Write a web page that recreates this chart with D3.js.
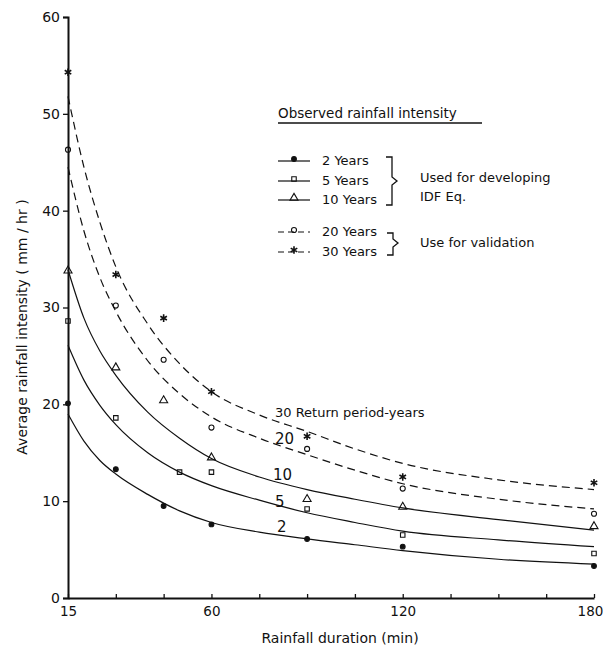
<!DOCTYPE html>
<meta charset="utf-8">
<script src="https://d3js.org/d3.v7.min.js"></script>
<style>
  body { margin: 0; background: #fff; }
  text { font-family: "DejaVu Sans", sans-serif; fill: #111; }
</style>
<div id="chart"></div>
<script>
// observed rainfall intensity (mm/hr) by duration (min)
var obsDur = [15, 30, 45, 60, 90, 120, 180];
var obsDur5 = [15, 30, 50, 60, 90, 120, 180];
var obs2 = [20.1, 13.3, 9.5, 7.6, 6.1, 5.3, 3.3];
var obs5 = [28.6, 18.6, 13.0, 13.0, 9.2, 6.5, 4.6];
var obs10 = [33.8, 23.8, 20.4, 14.5, 10.2, 9.4, 7.4];
var obs20 = [46.3, 30.2, 24.6, 17.6, 15.4, 11.3, 8.7];
var obs30 = [54.3, 33.4, 28.9, 21.3, 16.7, 12.5, 11.9];

// fitted IDF curves
var curveDur = [15, 20, 25, 30, 40, 50, 60, 75, 90, 105, 120, 150, 180];
var fit2 = [19.0, 16.2, 14.2, 12.8, 10.7, 9.0, 7.8, 6.8, 6.1, 5.5, 4.9, 4.0, 3.5];
var fit5 = [26.1, 22.5, 19.9, 17.9, 15.0, 13.0, 11.6, 10.1, 8.8, 7.8, 6.9, 6.0, 5.3];
var fit10 = [33.9, 28.9, 25.5, 23.0, 19.2, 16.5, 14.4, 12.5, 11.2, 10.2, 9.3, 8.1, 7.0];
var fit20 = [44.5, 37.9, 33.1, 29.6, 24.5, 21.1, 18.7, 16.5, 14.8, 13.2, 11.8, 10.2, 9.2];
var fit30 = [51.8, 44.5, 38.8, 34.2, 28.3, 24.2, 21.3, 18.9, 17.2, 15.4, 13.9, 12.2, 11.2];

var yTicks = [0, 10, 20, 30, 40, 50, 60];
var xTicks = [15, 30, 45, 60, 75, 90, 105, 120, 135, 150, 165, 180];
var xLabels = [15, 60, 120, 180];

var series = [
  {name: "2 Years", label: "2", dur: obsDur, obs: obs2, fit: fit2, sym: "dot", dash: null},
  {name: "5 Years", label: "5", dur: obsDur5, obs: obs5, fit: fit5, sym: "square", dash: null},
  {name: "10 Years", label: "10", dur: obsDur, obs: obs10, fit: fit10, sym: "triangle", dash: null},
  {name: "20 Years", label: "20", dur: obsDur, obs: obs20, fit: fit20, sym: "circle", dash: "8,5"},
  {name: "30 Years", label: "30 Return period-years", dur: obsDur, obs: obs30, fit: fit30, sym: "star", dash: "8,5"}
];

var width = 603, height = 653;
var svg = d3.select("#chart").append("svg")
  .attr("width", width)
  .attr("height", height);

var x = d3.scaleLinear().domain([15, 180]).range([68, 594]);
var y = d3.scaleLinear().domain([0, 60]).range([598, 17]);

// axes
var yAxis = svg.append("g")
  .attr("transform", "translate(68,0)")
  .call(d3.axisLeft(y).tickValues(yTicks).tickSize(5).tickPadding(3));
yAxis.selectAll("text").style("font-size", "14px").attr("font-family", null);
yAxis.select(".domain").attr("stroke-width", 2).attr("stroke", "#111");
yAxis.selectAll(".tick line").attr("stroke-width", 1.3).attr("stroke", "#111");

var xAxis = svg.append("g")
  .attr("transform", "translate(0,598)")
  .call(d3.axisBottom(x).tickValues(xTicks).tickSizeInner(-4).tickSizeOuter(0).tickPadding(8)
    .tickFormat(function(d) { return xLabels.indexOf(d) >= 0 ? d : ""; }));
xAxis.selectAll("text").style("font-size", "13.5px").attr("font-family", null)
  .attr("dx", function(d) { return d == 180 ? -4 : 0; });
xAxis.select(".domain").attr("stroke-width", 2).attr("stroke", "#111");
xAxis.selectAll(".tick line").attr("stroke-width", 1.3).attr("stroke", "#111");

svg.append("text")
  .attr("x", 340).attr("y", 643)
  .attr("text-anchor", "middle")
  .style("font-size", "14px")
  .text("Rainfall duration (min)");

svg.append("text")
  .attr("transform", "translate(27,327) rotate(-90)")
  .attr("text-anchor", "middle")
  .style("font-size", "14px")
  .text("Average rainfall intensity ( mm / hr )");

// symbols
var symMap = {
  dot: {type: d3.symbolCircle, size: 18, fill: "#111"},
  square: {type: d3.symbolSquare, size: 20, fill: "none"},
  triangle: {type: d3.symbolTriangle, size: 28, fill: "none"},
  circle: {type: d3.symbolCircle, size: 20, fill: "none"},
  star: {type: d3.symbolAsterisk, size: 40, fill: "none"}
};
function drawSymbol(g, kind, px, py) {
  var s = symMap[kind];
  g.append("path")
    .attr("transform", "translate(" + px + "," + py + ")")
    .attr("d", d3.symbol().type(s.type).size(s.size)())
    .attr("fill", s.fill)
    .attr("stroke", "#111")
    .attr("stroke-width", kind == "star" ? 1.6 : 1.1);
}

// fitted curves
var line = d3.line()
  .x(function(d) { return x(d[0]); })
  .y(function(d) { return y(d[1]); })
  .curve(d3.curveMonotoneX);

series.forEach(function(s) {
  svg.append("path")
    .datum(curveDur.map(function(t, i) { return [t, s.fit[i]]; }))
    .attr("d", line)
    .attr("fill", "none")
    .attr("stroke", "#111")
    .attr("stroke-width", 1.2)
    .attr("stroke-dasharray", s.dash);
  var g = svg.append("g");
  s.obs.forEach(function(v, i) { drawSymbol(g, s.sym, x(s.dur[i]), y(v)); });
});

// curve labels
var labelPos = [[277, 532], [275, 507], [273, 480], [275, 444], [275, 417]];
series.forEach(function(s, i) {
  svg.append("text")
    .attr("x", labelPos[i][0]).attr("y", labelPos[i][1])
    .style("font-size", i == 4 ? "13px" : "15px")
    .text(s.label);
});

// legend
svg.append("text")
  .attr("x", 278).attr("y", 118)
  .style("font-size", "13.5px")
  .text("Observed rainfall intensity");
svg.append("line")
  .attr("x1", 278).attr("x2", 482).attr("y1", 123).attr("y2", 123)
  .attr("stroke", "#111").attr("stroke-width", 1.3);

var legY = [160, 180, 199, 231, 251];
var leg = svg.append("g");
series.forEach(function(s, i) {
  leg.append("line")
    .attr("x1", 278).attr("x2", 310)
    .attr("y1", legY[i] + 1).attr("y2", legY[i] + 1)
    .attr("stroke", "#111").attr("stroke-width", 1.2)
    .attr("stroke-dasharray", s.dash ? "6,4" : null);
  drawSymbol(leg, s.sym, 294, legY[i] - 1);
  leg.append("text")
    .attr("x", 322).attr("y", legY[i] + 5)
    .style("font-size", "13px")
    .text(s.name);
});

leg.append("path")
  .attr("d", "M386,157H392V177L397,181L392,185V205H386")
  .attr("fill", "none").attr("stroke", "#111").attr("stroke-width", 1.3);
leg.append("path")
  .attr("d", "M387,233H393V239L398,243L393,247V255H387")
  .attr("fill", "none").attr("stroke", "#111").attr("stroke-width", 1.3);

leg.append("text").attr("x", 420).attr("y", 182).style("font-size", "13px").text("Used for developing");
leg.append("text").attr("x", 420).attr("y", 201).style("font-size", "13px").text("IDF Eq.");
leg.append("text").attr("x", 420).attr("y", 247).style("font-size", "13px").text("Use for validation");
</script>
